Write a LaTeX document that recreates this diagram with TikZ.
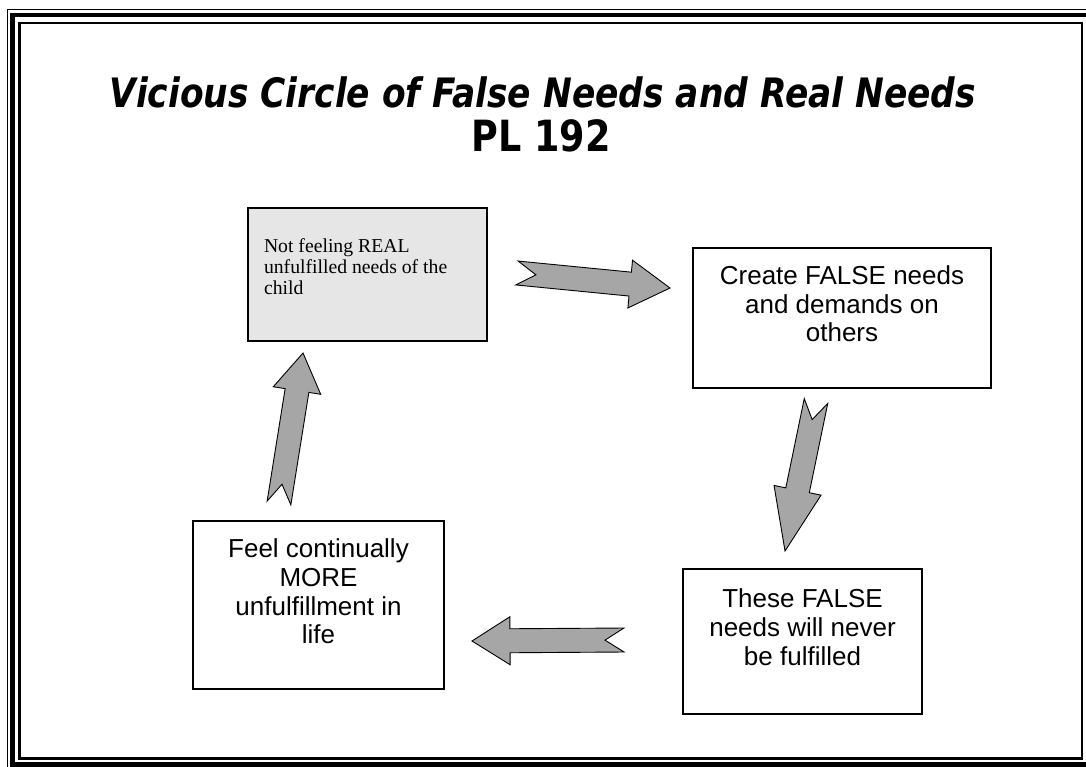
\documentclass[tikz,border=0pt]{standalone}
\usepackage{fontspec}
\setmainfont{Liberation Sans}
\newfontfamily\serifbox{Liberation Serif}
\newfontfamily\headfont[FakeStretch=0.85,BoldFont={DejaVu Sans Bold},BoldItalicFont={DejaVu Sans Bold Oblique}]{DejaVu Sans}
\usetikzlibrary{calc}
\definecolor{boxgray}{HTML}{E6E6E6}
\definecolor{arrowgray}{HTML}{A6A6A6}
\tikzset{
	card/.style={draw,line width=2pt,inner sep=0pt,anchor=north west},
	fatarrow/.style={draw,line width=.9pt,fill=arrowgray,line join=miter},
}
\newcommand\cardtext[4]{\parbox[c][#2pt][t]{#1pt}{\vspace*{#3pt}#4}}
% notched block arrow from #2 to #3, head length #1
\newcommand\fatarrow[3][40]{%
	\draw[fatarrow] ($(#2)!12pt!90:(#3)$) -- ($(#3)!#1pt!(#2)!12pt!-90:(#2)$) -- ($(#3)!#1pt!(#2)!24pt!-90:(#2)$) -- (#3)
		-- ($(#3)!#1pt!(#2)!24pt!90:(#2)$) -- ($(#3)!#1pt!(#2)!12pt!90:(#2)$) -- ($(#2)!12pt!-90:(#3)$) -- ($(#2)!19pt!(#3)$) -- cycle;}
\begin{document}
\begin{tikzpicture}[x=1pt,y=-1pt]
	\useasboundingbox (0,0) rectangle (1086,766);
	\clip (0,0) rectangle (1086,766);
	\draw[line width=1.5pt] (7.5,9.7) rectangle (1100,780);
	\draw[line width=4.5pt] (12.5,15.2) rectangle (1100,764.5);
	\draw[line width=2.5pt] (19.5,23) rectangle (1082,758.5);
	\node[anchor=base] (title) at (543,107) {\headfont\bfseries\itshape\fontsize{40.5}{48}\selectfont Vicious Circle of False Needs and Real Needs};
	\node[anchor=base] (pl) at (541,151) {\headfont\bfseries\fontsize{43}{48}\selectfont PL 192};
	\node[card,fill=boxgray] (real) at (247,207) {\cardtext{239}{133}{31}{\serifbox\fontsize{19.7}{21}\selectfont\raggedright\leftskip=16pt Not feeling REAL\\unfulfilled needs of the\\child}};
	\node[card] (false) at (692,247) {\cardtext{298}{140}{18}{\fontsize{26}{28.5}\selectfont\centering Create FALSE needs\\and demands on\\others}};
	\node[card] (never) at (682,568) {\cardtext{239}{145}{20}{\fontsize{26}{29}\selectfont\centering These FALSE\\needs will never\\be fulfilled}};
	\node[card] (more) at (192,520) {\cardtext{251}{168}{18}{\fontsize{26}{28.7}\selectfont\centering Feel continually\\MORE\\unfulfillment in\\life}};
	\coordinate (a1s) at (517,273); \coordinate (a1e) at (670,288);
	\coordinate (a2s) at (816,401); \coordinate (a2e) at (785,551);
	\coordinate (a3s) at (624,640); \coordinate (a3e) at (472,641);
	\coordinate (a4s) at (279,503); \coordinate (a4e) at (303,353);
	\fatarrow{a1s}{a1e}
	\fatarrow[62]{a2s}{a2e}
	\fatarrow[38]{a3s}{a3e}
	\fatarrow[38]{a4s}{a4e}
\end{tikzpicture}
\end{document}
